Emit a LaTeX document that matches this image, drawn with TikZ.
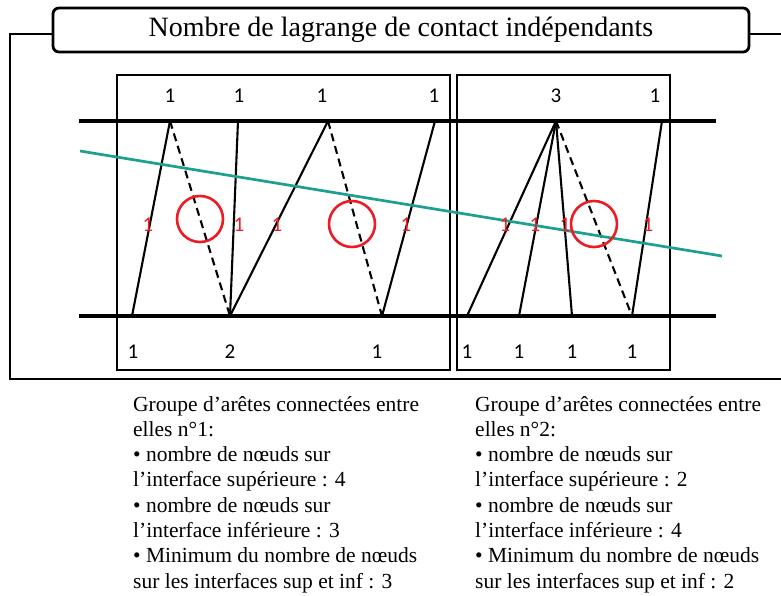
\documentclass[tikz,border=0pt]{standalone}
\usepackage{fontspec}
\setmainfont{Liberation Serif}
\newfontfamily\numfont{Carlito}
\definecolor{myred}{RGB}{235,28,36}
\definecolor{myteal}{RGB}{30,160,145}
\begin{document}
\begin{tikzpicture}[x=1pt,y=-1pt,
  frame/.style={line width=2.8pt},
  edge/.style={line width=2.1pt},
  dashededge/.style={line width=2.1pt, dash pattern=on 8pt off 5pt},
  iface/.style={line width=3.1pt},
  num/.style={font=\numfont\fontsize{21}{21}\selectfont, inner sep=0pt},
  rnum/.style={num, text=myred},
  circ/.style={draw=myred, line width=2.6pt, circle, minimum size=46pt, inner sep=0pt},
  txt/.style={font=\fontsize{21.5}{25}\selectfont, anchor=base west, inner sep=0pt}]
\useasboundingbox (0,0) rectangle (781,595);

% title and outer frame
\node[draw, rounded corners=6pt, line width=2.8pt, minimum width=696pt, minimum height=44pt,
  inner sep=0pt, font=\fontsize{28}{28}\selectfont] (title) at (401,30)
  {Nombre de lagrange de contact indépendants};
\coordinate (fa) at (53,34);
\coordinate (fb) at (10,34);
\coordinate (fc) at (10,379);
\coordinate (fd) at (781,379);
\coordinate (fe) at (749,34);
\coordinate (ff) at (781,34);
\draw[frame] (fa) -- (fb) -- (fc) -- (fd);
\draw[frame] (fe) -- (ff);

% boxes
\draw[frame] (117,75) rectangle (450,370);
\draw[frame] (457,75) rectangle (670,370);

% interfaces
\coordinate (il1) at (79,121);
\coordinate (ir1) at (716,121);
\coordinate (il2) at (79,316);
\coordinate (ir2) at (716,316);
\draw[iface] (il1) -- (ir1);
\draw[iface] (il2) -- (ir2);

% points
\coordinate (t1) at (170,121);
\coordinate (t2) at (238,121);
\coordinate (t3) at (328,121);
\coordinate (t4) at (435,121);
\coordinate (t5) at (556,121);
\coordinate (t6) at (662,121);
\coordinate (b1) at (132,316);
\coordinate (b2) at (230,316);
\coordinate (b3) at (382,316);
\coordinate (b4) at (467,316);
\coordinate (b5) at (519,316);
\coordinate (b6) at (572,316);
\coordinate (b7) at (632,316);

% edges
\draw[edge] (b1) -- (t1);
\draw[dashededge] (t1) -- (b2);
\draw[edge] (t2) -- (b2);
\draw[edge] (b2) -- (t3);
\draw[dashededge] (t3) -- (b3);
\draw[edge] (b3) -- (t4);
\draw[edge] (t5) -- (b4);
\draw[edge] (t5) -- (b5);
\draw[edge] (t5) -- (b6);
\draw[dashededge] (t5) -- (b7);
\draw[edge] (b7) -- (t6);

% teal line
\coordinate (ta) at (80,151);
\coordinate (tb) at (722,256);
\draw[myteal, line width=2.7pt] (ta) -- (tb);

% circles
\node[circ] (c1) at (200,219) {};
\node[circ] (c2) at (352,224) {};
\node[circ] (c3) at (594,224) {};

% top labels
\node[num] (n1) at (170,96) {1};
\node[num] (n2) at (239,96) {1};
\node[num] (n3) at (322,96) {1};
\node[num] (n4) at (434,96) {1};
\node[num] (n5) at (556,96) {3};
\node[num] (n6) at (655,96) {1};
% bottom labels
\node[num] (m1) at (133,352) {1};
\node[num] (m2) at (230,352) {2};
\node[num] (m3) at (377,352) {1};
\node[num] (m4) at (467,352) {1};
\node[num] (m5) at (519,352) {1};
\node[num] (m6) at (572,352) {1};
\node[num] (m7) at (632,352) {1};
% red labels
\node[rnum] (r1) at (148,225) {1};
\node[rnum] (r2) at (239,225) {1};
\node[rnum] (r3) at (277,225) {1};
\node[rnum] (r4) at (406,225) {1};
\node[rnum] (r5) at (505,225) {1};
\node[rnum] (r6) at (535,225) {1};
\node[rnum] (r7) at (565,225) {1};
\node[rnum] (r8) at (648,225) {1};

% texts
\node[txt] (a1) at (133,411.0) {Groupe d’arêtes connectées entre};
\node[txt] (a2) at (133,436.3) {elles n°1:};
\node[txt] (a3) at (133,461.6) {• nombre de nœuds sur};
\node[txt] (a4) at (133,486.9) {l’interface supérieure : 4};
\node[txt] (a5) at (133,512.2) {• nombre de nœuds sur};
\node[txt] (a6) at (133,537.5) {l’interface inférieure : 3};
\node[txt] (a7) at (133,562.8) {• Minimum du nombre de nœuds};
\node[txt] (a8) at (133,588.1) {sur les interfaces sup et inf : 3};

\node[txt] (d1) at (475,411.0) {Groupe d’arêtes connectées entre};
\node[txt] (d2) at (475,436.3) {elles n°2:};
\node[txt] (d3) at (475,461.6) {• nombre de nœuds sur};
\node[txt] (d4) at (475,486.9) {l’interface supérieure : 2};
\node[txt] (d5) at (475,512.2) {• nombre de nœuds sur};
\node[txt] (d6) at (475,537.5) {l’interface inférieure : 4};
\node[txt] (d7) at (475,562.8) {• Minimum du nombre de nœuds};
\node[txt] (d8) at (475,588.1) {sur les interfaces sup et inf : 2};
\end{tikzpicture}
\end{document}
